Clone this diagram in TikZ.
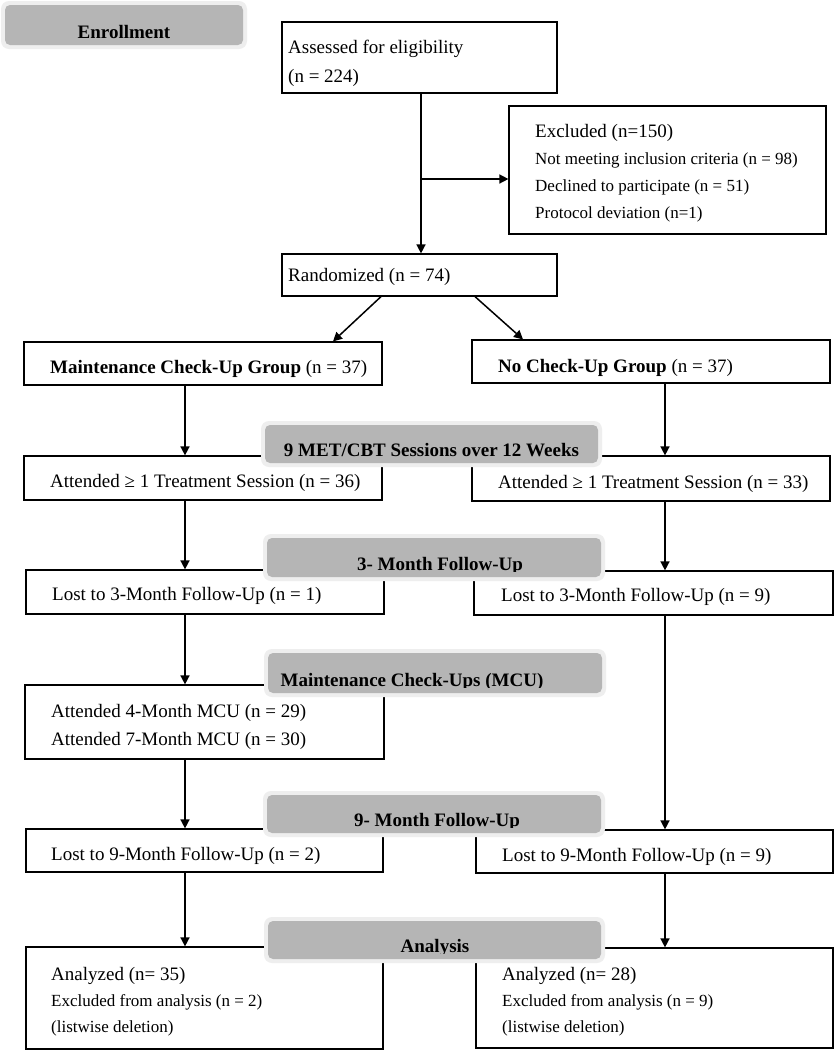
\documentclass[tikz,border=0pt]{standalone}
\usepackage{fontspec}
\setmainfont{Liberation Serif}
\usetikzlibrary{arrows.meta,fit}
\definecolor{barfill}{RGB}{181,181,181}
\definecolor{barglow}{RGB}{238,238,238}
\newcommand\bigtxt{\fontsize{19}{23}\selectfont}
\newcommand\smalltxt{\fontsize{17}{20}\selectfont}
% name, x1, y1, x2, y2
\newcommand\flowbox[5]{\node[boxst, fit={(#2,#3) (#4,#5)}] (#1) {};}
% name, x1, y1, x2, y2, text x, text
\newcommand\phasebar[7]{%
  \fill[barglow, rounded corners=8pt] (#2-4,#3-4) rectangle (#4+4,#5+4);
  \fill[barfill, rounded corners=5pt] (#2,#3) rectangle (#4,#5);
  \begin{scope}
    \clip (#2,#3) rectangle (#4,#5-5.5);
    \node[bartxt] (#1) at (#6,#5-7) {#7};
  \end{scope}}
\begin{document}
\begin{tikzpicture}[x=1pt,y=-1pt,
  boxst/.style={draw, line width=1.2pt, inner sep=0pt},
  txt/.style={anchor=base west, inner sep=0pt, font=\bigtxt},
  stxt/.style={anchor=base west, inner sep=0pt, font=\smalltxt},
  bartxt/.style={anchor=base, inner sep=0pt, font=\bigtxt\bfseries},
  arr/.style={line width=1.5pt, -{Triangle[length=9pt,width=9pt]}}]
\useasboundingbox[fill=white] (0,0) rectangle (835,1050);

% column coordinates
\coordinate (colL) at (185,0);
\coordinate (colR) at (665,0);
\coordinate (colM) at (421,0);
\coordinate (brk) at (421,179);
\coordinate (dLs) at (381,0);
\coordinate (dLe) at (333,0);
\coordinate (dRs) at (475,0);
\coordinate (dRe) at (523,0);

% boxes
\flowbox{assess}{282}{22}{557}{93}
\flowbox{excl}{509}{106}{826}{234}
\flowbox{rand}{282}{254}{557}{296}
\flowbox{gL}{24}{342}{382}{385}
\flowbox{gR}{472}{340}{830}{383}
\flowbox{attL}{24}{456}{382}{500}
\flowbox{attR}{472}{456}{830}{501}
\flowbox{lostThreeL}{26}{570}{384}{614}
\flowbox{lostThreeR}{474}{571}{833}{615}
\flowbox{mcu}{25}{685}{384}{759}
\flowbox{lostNineL}{26}{829}{383}{872}
\flowbox{lostNineR}{476}{830}{833}{873}
\flowbox{anL}{26}{947}{383}{1049}
\flowbox{anR}{476}{948}{833}{1048}

% texts
\node[txt] (assessA) at (288,53) {Assessed for eligibility};
\node[txt] (assessB) at (288,82) {(n = 224)};
\node[txt] (exclA) at (535,137) {Excluded (n=150)};
\node[stxt] (exclB) at (535,164) {Not meeting inclusion criteria (n = 98)};
\node[stxt] (exclC) at (535,191) {Declined to participate (n = 51)};
\node[stxt] (exclD) at (535,218) {Protocol deviation (n=1)};
\node[txt] (randA) at (288,281) {Randomized (n = 74)};
\node[txt] (gLA) at (50,373) {\textbf{Maintenance Check-Up Group} (n = 37)};
\node[txt] (gRA) at (498,372) {\textbf{No Check-Up Group} (n = 37)};
\node[txt] (attLA) at (50,487) {Attended ≥ 1 Treatment Session (n = 36)};
\node[txt] (attRA) at (498,488) {Attended ≥ 1 Treatment Session (n = 33)};
\node[txt] (l3LA) at (52,600) {Lost to 3-Month Follow-Up (n = 1)};
\node[txt] (l3RA) at (501,601) {Lost to 3-Month Follow-Up (n = 9)};
\node[txt] (mcuA) at (51,717) {Attended 4-Month MCU (n = 29)};
\node[txt] (mcuB) at (51,745) {Attended 7-Month MCU (n = 30)};
\node[txt] (l9LA) at (51,860) {Lost to 9-Month Follow-Up (n = 2)};
\node[txt] (l9RA) at (502,861) {Lost to 9-Month Follow-Up (n = 9)};
\node[txt] (anLA) at (51,980) {Analyzed (n= 35)};
\node[stxt] (anLB) at (51,1006) {Excluded from analysis (n = 2)};
\node[stxt] (anLC) at (51,1032) {(listwise deletion)};
\node[txt] (anRA) at (502,980) {Analyzed (n= 28)};
\node[stxt] (anRB) at (502,1006) {Excluded from analysis (n = 9)};
\node[stxt] (anRC) at (502,1032) {(listwise deletion)};

% connectors
\draw[arr] (assess.south -| colM) -- (rand.north -| colM);
\draw[arr] (brk) -- (excl.west |- brk);
\draw[arr] (rand.south -| dLs) -- (gL.north -| dLe);
\draw[arr] (rand.south -| dRs) -- (gR.north -| dRe);
\draw[arr] (gL.south -| colL) -- (attL.north -| colL);
\draw[arr] (gR.south -| colR) -- (attR.north -| colR);
\draw[arr] (attL.south -| colL) -- (lostThreeL.north -| colL);
\draw[arr] (attR.south -| colR) -- (lostThreeR.north -| colR);
\draw[arr] (lostThreeL.south -| colL) -- (mcu.north -| colL);
\draw[arr] (lostThreeR.south -| colR) -- (lostNineR.north -| colR);
\draw[arr] (mcu.south -| colL) -- (lostNineL.north -| colL);
\draw[arr] (lostNineL.south -| colL) -- (anL.north -| colL);
\draw[arr] (lostNineR.south -| colR) -- (anR.north -| colR);

% phase bars
\phasebar{barEnroll}{5}{5}{243}{45}{124}{Enrollment}
\phasebar{barMET}{265}{425}{598}{463}{431.5}{9 MET/CBT Sessions over 12 Weeks}
\phasebar{barThree}{267}{538}{601}{577}{440}{3- Month Follow-Up}
\phasebar{barMCU}{268}{653}{602}{693}{412}{Maintenance Check-Ups (MCU)}
\phasebar{barNine}{267}{795}{601}{833}{437}{9- Month Follow-Up}
\phasebar{barAnalysis}{268}{921}{601}{959}{435}{Analysis}
\end{tikzpicture}
\end{document}
